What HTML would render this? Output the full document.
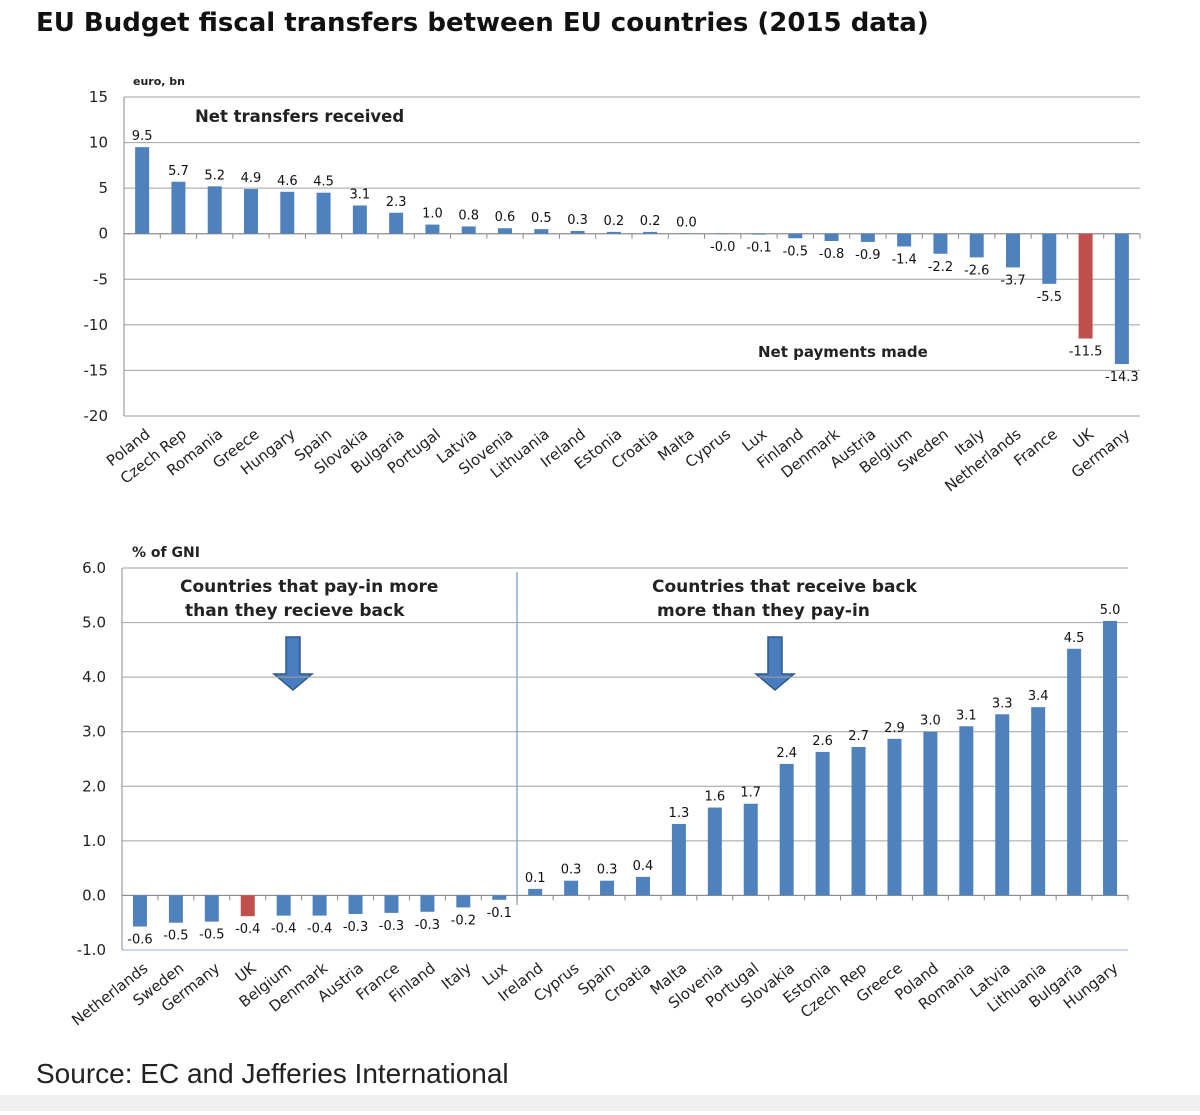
<!DOCTYPE html>
<html><head><meta charset="utf-8"><style>
body{margin:0;width:1200px;height:1111px;background:#fff;overflow:hidden;font-family:"DejaVu Sans","Liberation Sans",sans-serif}
svg text{font-family:"DejaVu Sans","Liberation Sans",sans-serif}
</style></head><body>
<svg id="c" width="1200" height="1111" xmlns="http://www.w3.org/2000/svg">
<text x="36" y="31" font-size="26" font-weight="bold" fill="#111">EU Budget fiscal transfers between EU countries (2015 data)</text>
<text x="36" y="1083" font-size="28" fill="#222" style="font-family:'Liberation Sans',sans-serif">Source: EC and Jefferies International</text>
<rect x="0" y="1095" width="1200" height="16" fill="#f0f0f0"/>
<text x="133" y="85" font-size="11" font-weight="bold" fill="#222">euro, bn</text>
<text x="195" y="122" font-size="16.5" font-weight="bold" fill="#222">Net transfers received</text>
<text x="758" y="357" font-size="15" font-weight="bold" fill="#222">Net payments made</text>
<text x="132" y="557" font-size="14" font-weight="bold" fill="#222">% of  GNI</text>
<text x="180" y="592" font-size="17" font-weight="bold" fill="#222">Countries that pay-in more</text>
<text x="185" y="616" font-size="17" font-weight="bold" fill="#222">than they recieve back</text>
<text x="652" y="592" font-size="17" font-weight="bold" fill="#222">Countries that receive back</text>
<text x="657" y="616" font-size="17" font-weight="bold" fill="#222">more than they pay-in</text>
<line x1="517" y1="572" x2="517" y2="905" stroke="#5a7fb5" stroke-width="1"/>
<path d="M286,637 h14 v37 h12 l-19,16 l-19,-16 h12 z" fill="#4a7cc0" stroke="#2e5a8f" stroke-width="1.5"/>
<path d="M768,637 h14 v37 h12 l-19,16 l-19,-16 h12 z" fill="#4a7cc0" stroke="#2e5a8f" stroke-width="1.5"/>
</svg>
<script>
const topCategories=["Poland","Czech Rep","Romania","Greece","Hungary","Spain","Slovakia","Bulgaria","Portugal","Latvia","Slovenia","Lithuania","Ireland","Estonia","Croatia","Malta","Cyprus","Lux","Finland","Denmark","Austria","Belgium","Sweden","Italy","Netherlands","France","UK","Germany"];
const topValues=[9.5,5.7,5.2,4.9,4.6,4.5,3.1,2.3,1.0,0.8,0.6,0.5,0.3,0.2,0.2,0.02,-0.02,-0.1,-0.5,-0.8,-0.9,-1.4,-2.2,-2.6,-3.7,-5.5,-11.5,-14.3];
const topLabels=["9.5","5.7","5.2","4.9","4.6","4.5","3.1","2.3","1.0","0.8","0.6","0.5","0.3","0.2","0.2","0.0","-0.0","-0.1","-0.5","-0.8","-0.9","-1.4","-2.2","-2.6","-3.7","-5.5","-11.5","-14.3"];
const topTicks=[15,10,5,0,-5,-10,-15,-20];
const botCategories=["Netherlands","Sweden","Germany","UK","Belgium","Denmark","Austria","France","Finland","Italy","Lux","Ireland","Cyprus","Spain","Croatia","Malta","Slovenia","Portugal","Slovakia","Estonia","Czech Rep","Greece","Poland","Romania","Latvia","Lithuania","Bulgaria","Hungary"];
const botValues=[-0.57,-0.5,-0.48,-0.38,-0.37,-0.37,-0.34,-0.32,-0.3,-0.22,-0.08,0.12,0.27,0.27,0.34,1.31,1.61,1.68,2.41,2.63,2.72,2.87,3.0,3.1,3.32,3.45,4.52,5.03];
const botLabels=["-0.6","-0.5","-0.5","-0.4","-0.4","-0.4","-0.3","-0.3","-0.3","-0.2","-0.1","0.1","0.3","0.3","0.4","1.3","1.6","1.7","2.4","2.6","2.7","2.9","3.0","3.1","3.3","3.4","4.5","5.0"];
const botTicks=[6,5,4,3,2,1,0,-1];
const highlight="UK";
const svg=document.getElementById('c');
const NS="http://www.w3.org/2000/svg";
function mk(tag,attrs,txt){const e=document.createElementNS(NS,tag);for(const k in attrs)e.setAttribute(k,attrs[k]);if(txt!==undefined)e.textContent=txt;svg.appendChild(e);return e;}
function drawChart(cfg){
  const {cats,vals,labs,ticks,left,right,yTop,yBot,vMax,vMin,fmt,prefix,labSize,catY}=cfg;
  const y=v=>yTop+(vMax-v)/(vMax-vMin)*(yBot-yTop);
  const bw=(right-left)/cats.length;
  const x=i=>left+bw*(i+0.5);
  ticks.forEach(t=>{
    const g=mk('line',{x1:left,x2:right,y1:y(t),y2:y(t),stroke:t===vMin?cfg.minColor:'#a0a0a0','stroke-width':1});
    
    
    const tl=mk('text',{x:left-16,y:y(t)+5,'text-anchor':'end','font-size':15,fill:'#222'},fmt(t));
    
    
  });
  const ax=mk('line',{x1:left,x2:left,y1:yTop,y2:yBot,stroke:'#888','stroke-width':1});
  
  
  const base=mk('line',{x1:left,x2:right,y1:y(0),y2:y(0),stroke:'#888','stroke-width':1});
  
  
  for(let i=0;i<=cats.length;i++){
    const tk=mk('line',{x1:left+bw*i,x2:left+bw*i,y1:y(0),y2:y(0)+5,stroke:'#888'});
    
    
  }
  cats.forEach((c,i)=>{
    const v=vals[i];const y0=y(0),y1=y(v);
    const b=mk('rect',{x:x(i)-7,y:Math.min(y0,y1),width:14,height:Math.max(Math.abs(y1-y0),0.5),fill:c===highlight?'#c0504d':'#4f81bd'});
    
    
    const ly=v>=0?y1-7:y1+17;
    const l=mk('text',{x:x(i),y:ly,'text-anchor':'middle','font-size':labSize,fill:'#111'},labs[i]);
    
    
    const cl=mk('text',{x:x(i)+9,y:catY,'text-anchor':'end','font-size':15,fill:'#222',transform:`rotate(-38 ${x(i)+9} ${catY})`},c);
    
    
  });
}
drawChart({cats:topCategories,vals:topValues,labs:topLabels,ticks:topTicks,left:124,right:1140,yTop:97,yBot:416,vMax:15,vMin:-20,fmt:t=>String(t),prefix:'top',labSize:13,catY:436,minColor:'#a0a0a0'});
drawChart({cats:botCategories,vals:botValues,labs:botLabels,ticks:botTicks,left:122,right:1128,yTop:568,yBot:950,vMax:6,vMin:-1,fmt:t=>t.toFixed(1),prefix:'bottom',labSize:13,catY:970,minColor:'#8fb0d8'});
</script>
</body></html>
